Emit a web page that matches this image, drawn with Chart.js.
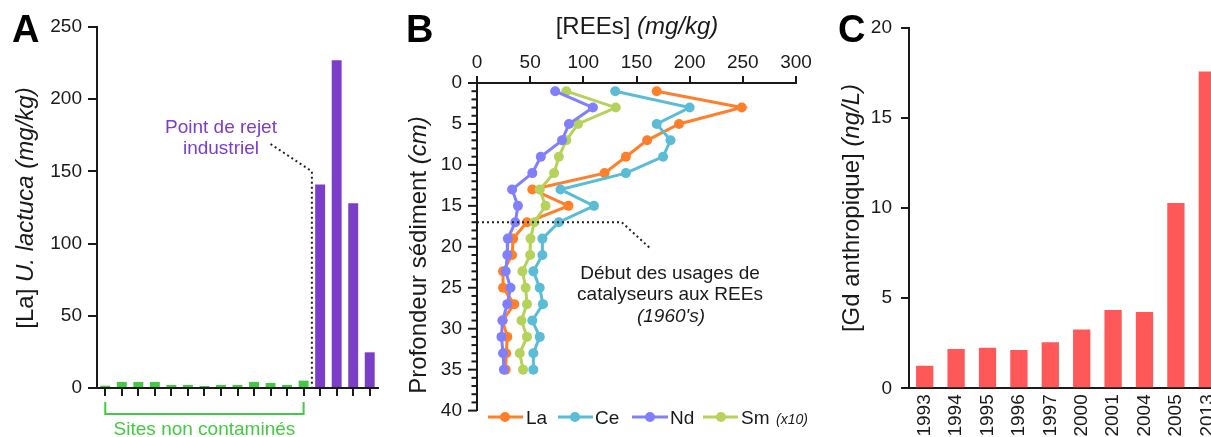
<!DOCTYPE html>
<html>
<head>
<meta charset="utf-8">
<script src="https://cdn.jsdelivr.net/npm/chart.js@4.4.1/dist/chart.umd.min.js"></script>
<style>
  html, body { margin: 0; padding: 0; background: #fff; overflow: hidden; }
  #wrap { position: relative; width: 1211px; height: 437px; overflow: hidden; }
  canvas { position: absolute; top: 0; }
</style>
</head>
<body>
<div id="wrap">
  <canvas id="chartA" width="400" height="437" style="left:0px"></canvas>
  <canvas id="chartB" width="420" height="437" style="left:400px"></canvas>
  <canvas id="chartC" width="430" height="437" style="left:820px"></canvas>
</div>
<script>
const FONT = "'Liberation Sans', Arial, Helvetica, sans-serif";
const INK = '#1a1a1a';

// Panel A - La dans U. lactuca
const siteLabels = ['S1','S2','S3','S4','S5','S6','S7','S8','S9','S10','S11','S12','S13','S14','S15','S16','S17'];
const cleanSites = [1.6, 4.2, 4.2, 4.2, 2.1, 2.1, 1.4, 2.1, 2.1, 4.2, 3.5, 2.1, 5.1];
const dischargeSites = [141, 227, 128, 24.7];

// Panel B - profils sédimentaires
const depthCm = [1, 3, 5, 7, 9, 11, 13, 15, 17, 19, 21, 23, 25, 27, 29, 31, 33, 35];
const laValues = [169, 249, 190, 160, 140, 120, 52, 86, 47, 34, 33, 24.5, 24.5, 35, 24, 28.5, 27.5, 27];
const ceValues = [130, 200, 169, 182, 175, 140, 78.5, 110, 77, 61.5, 61.5, 53, 59, 62, 52, 59, 53, 53];
const ndValues = [73.5, 109, 86.5, 80, 60, 52, 33, 38.5, 36, 29, 28.5, 27, 31.5, 28.5, 24, 23, 24.5, 25.3];
const smValues = [84, 130.5, 95, 84, 77, 72.5, 59, 64.5, 54, 50.3, 50, 42.7, 45.8, 47, 41.8, 47, 40.2, 43.3];

// Panel C - Gd anthropique
const years = ['1993', '1994', '1995', '1996', '1997', '2000', '2001', '2004', '2005', '2013'];
const gdValues = [1.25, 2.18, 2.25, 2.12, 2.55, 3.27, 4.34, 4.23, 10.28, 17.58];

const GREEN = '#44c944';
const PURPLE = '#7a3ec8';
const RED = '#ff5858';

function font(size, italic, bold) {
    return (italic ? 'italic ' : '') + (bold ? 'bold ' : '') + size + 'px ' + FONT;
}

// texte centré avec morceaux en italique
function richText(ctx, parts, x, y, size, angle, color) {
    ctx.save();
    ctx.translate(x, y);
    ctx.rotate(angle || 0);
    ctx.fillStyle = color || INK;
    ctx.textBaseline = 'middle';
    ctx.textAlign = 'left';
    let total = 0;
    parts.forEach(p => {
        ctx.font = font(p[2] || size, p[1]);
        total += ctx.measureText(p[0]).width;
    });
    let cx = -total / 2;
    parts.forEach(p => {
        ctx.font = font(p[2] || size, p[1]);
        ctx.fillText(p[0], cx, 0);
        cx += ctx.measureText(p[0]).width;
    });
    ctx.restore();
}

function panelLetter(ctx, letter, x) {
    ctx.save();
    ctx.font = font(38, false, true);
    ctx.fillStyle = '#000';
    ctx.textBaseline = 'alphabetic';
    ctx.fillText(letter, x, 42);
    ctx.restore();
}

function axisScale(width, extra) {
    return Object.assign({
        grid: { drawOnChartArea: false, color: INK, lineWidth: 2, tickLength: 8 },
        border: { color: INK, width: 2 },
        ticks: { color: INK, font: { family: FONT, size: 19 } }
    }, extra);
}

// ---------- A ----------
const siteValues = cleanSites.concat(dischargeSites);
const siteColors = siteValues.map((v, i) => i < cleanSites.length ? GREEN : PURPLE);

const annotA = {
    id: 'annotA',
    afterDraw(chart) {
        const ctx = chart.ctx;
        const x = chart.scales.x, y = chart.scales.y;
        panelLetter(ctx, 'A', 12);
        richText(ctx, [['[La] ', false], ['U. lactuca', true], [' (mg/kg)', true]], 26, 208, 24, -Math.PI / 2);

        // point de rejet
        richText(ctx, [['Point de rejet', false]], x.getPixelForValue(7), 128, 19, 0, PURPLE);
        richText(ctx, [['industriel', false]], x.getPixelForValue(7), 149, 19, 0, PURPLE);
        const xr = (x.getPixelForValue(12) + x.getPixelForValue(13)) / 2;
        ctx.save();
        ctx.strokeStyle = '#222';
        ctx.lineWidth = 2;
        ctx.setLineDash([2, 3]);
        ctx.beginPath();
        ctx.moveTo(x.getPixelForValue(10), y.getPixelForValue(169));
        ctx.lineTo(xr, y.getPixelForValue(150));
        ctx.lineTo(xr, y.getPixelForValue(0));
        ctx.stroke();
        ctx.restore();

        // accolade sites non contaminés
        const x0 = x.getPixelForValue(0), x1 = x.getPixelForValue(cleanSites.length - 1);
        const yb = y.getPixelForValue(0) + 26;
        ctx.save();
        ctx.strokeStyle = GREEN;
        ctx.lineWidth = 2;
        ctx.beginPath();
        ctx.moveTo(x0, yb - 12);
        ctx.lineTo(x0, yb);
        ctx.lineTo(x1, yb);
        ctx.lineTo(x1, yb - 12);
        ctx.stroke();
        ctx.restore();
        ctx.save();
        ctx.font = font(19);
        ctx.fillStyle = GREEN;
        ctx.textAlign = 'center';
        ctx.textBaseline = 'alphabetic';
        ctx.fillText('Sites non contaminés', (x0 + x1) / 2, 435);
        ctx.restore();
    }
};

new Chart(document.getElementById('chartA'), {
    type: 'bar',
    data: {
        labels: siteLabels,
        datasets: [{ data: siteValues, backgroundColor: siteColors, barPercentage: 0.6, categoryPercentage: 1 }]
    },
    options: {
        responsive: false,
        animation: false,
        layout: { padding: { top: 27, right: 22, bottom: 0, left: 0 } },
        plugins: { legend: { display: false }, tooltip: { enabled: false } },
        scales: {
            x: axisScale(0, {
                grid: { offset: false, drawOnChartArea: false, color: INK, lineWidth: 2, tickLength: 8 },
                ticks: { display: false },
                afterFit: s => { s.height = 49; }
            }),
            y: axisScale(0, {
                min: 0, max: 250,
                grid: { drawOnChartArea: false, color: INK, lineWidth: 2, tickLength: 9 },
                ticks: { stepSize: 50, color: INK, padding: 6, font: { family: FONT, size: 19 } },
                afterFit: s => { s.width = 97; }
            })
        }
    },
    plugins: [annotA]
});

// ---------- B ----------
const series = [
    { label: 'La', values: laValues, color: '#ff7f2a', order: 3 },
    { label: 'Ce', values: ceValues, color: '#5bbcd6', order: 2 },
    { label: 'Nd', values: ndValues, color: '#8080ff', order: 0 },
    { label: 'Sm', values: smValues, color: '#b5d35a', order: 1 }
];

const annotB = {
    id: 'annotB',
    afterDraw(chart) {
        const ctx = chart.ctx;
        const x = chart.scales.x, y = chart.scales.y;
        const left = chart.chartArea.left;
        panelLetter(ctx, 'B', 6);
        richText(ctx, [['[REEs] ', false], ['(mg/kg)', true]], 237, 27, 24, 0);
        richText(ctx, [['Profondeur sédiment ', false], ['(cm)', true]], 19, 255, 24, -Math.PI / 2);

        // petites graduations
        ctx.save();
        ctx.strokeStyle = INK;
        ctx.lineWidth = 2;
        for (let d = 0; d <= 40; d++) {
            const py = y.getPixelForValue(d);
            const len = d % 5 === 0 ? 9 : 5.5;
            ctx.beginPath();
            ctx.moveTo(left - len, py);
            ctx.lineTo(left, py);
            ctx.stroke();
        }
        ctx.restore();

        // ligne 1960's
        ctx.save();
        ctx.strokeStyle = '#222';
        ctx.lineWidth = 2;
        ctx.setLineDash([2, 3]);
        ctx.beginPath();
        ctx.moveTo(left, y.getPixelForValue(17));
        ctx.lineTo(x.getPixelForValue(136), y.getPixelForValue(17));
        ctx.lineTo(x.getPixelForValue(163), y.getPixelForValue(20.2));
        ctx.stroke();
        ctx.restore();
        richText(ctx, [['Début des usages de', false]], 270, 274, 19, 0);
        richText(ctx, [['catalyseurs aux REEs', false]], 270, 295, 19, 0);
        richText(ctx, [["(1960's)", true]], 271, 317, 19, 0);

        // légende
        const items = [
            { s: series[0], x0: 88, x1: 123, cx: 105, tx: 126 },
            { s: series[1], x0: 158, x1: 193, cx: 175, tx: 195 },
            { s: series[2], x0: 232, x1: 268, cx: 250, tx: 270 },
            { s: series[3], x0: 303, x1: 338, cx: 321, tx: 341 }
        ];
        ctx.save();
        items.forEach(it => {
            ctx.strokeStyle = it.s.color;
            ctx.fillStyle = it.s.color;
            ctx.lineWidth = 3;
            ctx.beginPath();
            ctx.moveTo(it.x0, 417);
            ctx.lineTo(it.x1, 417);
            ctx.stroke();
            ctx.beginPath();
            ctx.arc(it.cx, 417, 5, 0, Math.PI * 2);
            ctx.fill();
            ctx.fillStyle = INK;
            ctx.font = font(19);
            ctx.textBaseline = 'middle';
            ctx.textAlign = 'left';
            ctx.fillText(it.s.label, it.tx, 419);
        });
        ctx.font = font(14, true);
        ctx.fillText('(x10)', 376, 420);
        ctx.restore();
    }
};

new Chart(document.getElementById('chartB'), {
    type: 'scatter',
    data: {
        datasets: series.map(s => ({
            label: s.label,
            data: depthCm.map((d, i) => ({ x: s.values[i], y: d })),
            showLine: true,
            borderColor: s.color,
            backgroundColor: s.color,
            borderWidth: 3,
            pointRadius: 5,
            pointBorderWidth: 0,
            pointBackgroundColor: s.color,
            tension: 0,
            order: s.order
        }))
    },
    options: {
        responsive: false,
        animation: false,
        layout: { padding: { top: 0, right: 24, bottom: 10, left: 0 } },
        plugins: { legend: { display: false }, tooltip: { enabled: false } },
        scales: {
            x: axisScale(0, {
                type: 'linear', position: 'top', min: 0, max: 300,
                grid: { drawOnChartArea: false, color: INK, lineWidth: 2, tickLength: 7 },
                ticks: { stepSize: 50, color: INK, padding: 2, font: { family: FONT, size: 19 } },
                afterFit: s => { s.height = 83; }
            }),
            y: axisScale(0, {
                type: 'linear', reverse: true, min: 0, max: 40,
                grid: { drawOnChartArea: false, drawTicks: false },
                ticks: { stepSize: 5, color: INK, padding: 15, font: { family: FONT, size: 19 } },
                afterFit: s => { s.width = 77; }
            })
        }
    },
    plugins: [annotB]
});

// ---------- C ----------
const annotC = {
    id: 'annotC',
    afterDraw(chart) {
        const ctx = chart.ctx;
        panelLetter(ctx, 'C', 18);
        richText(ctx, [['[Gd anthropique] ', false], ['(ng/L)', true]], 32, 208, 24, -Math.PI / 2);
    }
};

new Chart(document.getElementById('chartC'), {
    type: 'bar',
    data: {
        labels: years,
        datasets: [{ data: gdValues, backgroundColor: RED, barPercentage: 0.55, categoryPercentage: 1 }]
    },
    options: {
        responsive: false,
        animation: false,
        layout: { padding: { top: 28, right: 27, bottom: 0, left: 0 } },
        plugins: { legend: { display: false }, tooltip: { enabled: false } },
        scales: {
            x: axisScale(0, {
                grid: { display: true, drawOnChartArea: false, drawTicks: false, color: INK },
                ticks: { minRotation: 90, maxRotation: 90, autoSkip: false, padding: 6, color: INK, font: { family: FONT, size: 19 } },
                afterFit: s => { s.height = 48.7; }
            }),
            y: axisScale(0, {
                min: 0, max: 20,
                grid: { drawOnChartArea: false, color: INK, lineWidth: 2, tickLength: 8 },
                ticks: { stepSize: 5, color: INK, padding: 9, font: { family: FONT, size: 19 } },
                afterFit: s => { s.width = 89; }
            })
        }
    },
    plugins: [annotC]
});
</script>
</body>
</html>
